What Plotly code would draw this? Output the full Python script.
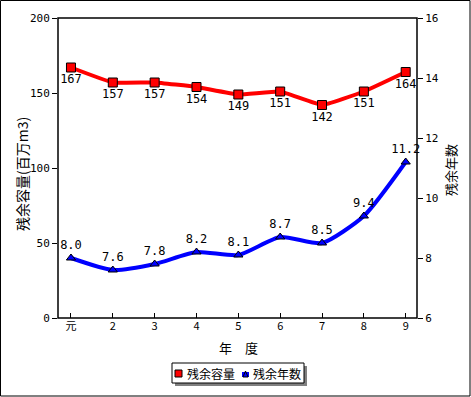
import plotly.graph_objects as go

years = ["元", "2", "3", "4", "5", "6", "7", "8", "9"]
capacity = [167, 157, 157, 154, 149, 151, 142, 151, 164]
remaining_years = [8.0, 7.6, 7.8, 8.2, 8.1, 8.7, 8.5, 9.4, 11.2]
cap_name = "残余容量"
yrs_name = "残余年数"
left_title = "残余容量(百万m3)"
right_title = "残余年数"
x_title = "年　度"

W, H = 471, 397
L, R, T, B = 58, 417, 18, 318

def px_x(x):
    return (x - L) / (R - L)

def px_y(y):
    return (B - y) / (B - T)

mono = "DejaVu Sans Mono"
jp = "Noto Sans CJK JP"

fig = go.Figure()
fig.add_trace(go.Scatter(
    x=years, y=capacity, name=cap_name, mode="lines+markers+text",
    line=dict(color="#ff0000", width=4, shape="spline", smoothing=0.3),
    marker=dict(symbol="square", size=9, color="#ff0000", line=dict(color="black", width=1)),
    text=[str(v) for v in capacity], textposition="bottom center",
    textfont=dict(family=mono, size=12, color="black"),
    showlegend=False, cliponaxis=False,
))
fig.add_trace(go.Scatter(
    x=years, y=remaining_years, name=yrs_name, yaxis="y2", mode="lines+markers+text",
    line=dict(color="#0000ff", width=4, shape="spline", smoothing=0.6),
    marker=dict(symbol="triangle-up", size=8, color="#0000ff", line=dict(color="black", width=1)),
    text=[f"{v:.1f}" for v in remaining_years], textposition="top center",
    textfont=dict(family=mono, size=12, color="black"),
    showlegend=False, cliponaxis=False,
))

shapes = [
    # outer border
    dict(type="rect", xref="paper", yref="paper", x0=px_x(0.5), x1=px_x(470), y0=px_y(396), y1=px_y(0.5),
         line=dict(color="black", width=1), fillcolor="rgba(0,0,0,0)", layer="below"),
    # plot frame
    dict(type="rect", xref="paper", yref="paper", x0=0, x1=1, y0=0, y1=1,
         line=dict(color="black", width=1.5), fillcolor="rgba(0,0,0,0)"),
    # legend shadow
    dict(type="rect", xref="paper", yref="paper", x0=px_x(175), x1=px_x(307), y0=px_y(386), y1=px_y(366),
         line=dict(width=0), fillcolor="#808080"),
    # legend box
    dict(type="rect", xref="paper", yref="paper", x0=px_x(172), x1=px_x(304), y0=px_y(383), y1=px_y(363),
         line=dict(color="black", width=1), fillcolor="white"),
    # legend key: red square
    dict(type="rect", xref="paper", yref="paper", x0=px_x(175), x1=px_x(182), y0=px_y(377), y1=px_y(370),
         line=dict(color="black", width=1), fillcolor="#ff0000"),
    # legend key: blue
    dict(type="rect", xref="paper", yref="paper", x0=px_x(242), x1=px_x(249), y0=px_y(377), y1=px_y(372),
         line=dict(width=0), fillcolor="#0000ff"),
    dict(type="path", xref="paper", yref="paper",
         path=f"M {px_x(243)},{px_y(377)} L {px_x(248)},{px_y(377)} L {px_x(245.5)},{px_y(371)} Z",
         line=dict(color="black", width=1), fillcolor="#0000ff"),
]

annotations = [
    dict(text=cap_name, xref="paper", yref="paper", x=px_x(185), y=px_y(373.5), xanchor="left", yanchor="middle",
         showarrow=False, font=dict(family=jp, size=12, color="black")),
    dict(text=yrs_name, xref="paper", yref="paper", x=px_x(251), y=px_y(373.5), xanchor="left", yanchor="middle",
         showarrow=False, font=dict(family=jp, size=12, color="black")),
    dict(text=left_title, xref="paper", yref="paper", x=px_x(22), y=px_y(174), xanchor="center", yanchor="middle",
         textangle=-90, showarrow=False, font=dict(family=jp, size=14, color="black")),
    dict(text=right_title, xref="paper", yref="paper", x=px_x(451), y=px_y(170), xanchor="center", yanchor="middle",
         textangle=-90, showarrow=False, font=dict(family=jp, size=13, color="black")),
    dict(text=x_title, xref="paper", yref="paper", x=px_x(238), y=px_y(347), xanchor="center", yanchor="middle",
         showarrow=False, font=dict(family=jp, size=13, color="black")),
]

fig.update_layout(
    width=W, height=H,
    margin=dict(l=L, r=W - R, t=T, b=H - B, autoexpand=False),
    paper_bgcolor="white", plot_bgcolor="white",
    font=dict(family=mono, color="black"),
    shapes=shapes, annotations=annotations, showlegend=False,
    xaxis=dict(
        type="category", range=[-0.31, 8.27], showgrid=False, zeroline=False,
        ticks="inside", ticklen=5, tickcolor="black", showline=False, automargin=False,
        tickfont=dict(family=jp, size=11),
    ),
    yaxis=dict(
        range=[0, 200], dtick=50, showgrid=False, zeroline=False, automargin=False,
        ticks="outside", ticklen=5, tickcolor="black", showline=False,
        tickfont=dict(family=mono, size=11),
    ),
    yaxis2=dict(
        range=[6, 16], dtick=2, overlaying="y", side="right", showgrid=False, zeroline=False,
        ticks="outside", ticklen=5, tickcolor="black", showline=False, automargin=False,
        tickfont=dict(family=mono, size=11),
    ),
)

fig.write_html(
    "out.html",
    config={"displayModeBar": False},
    post_script="document.body.style.margin='0';document.body.style.overflow='hidden';",
)
